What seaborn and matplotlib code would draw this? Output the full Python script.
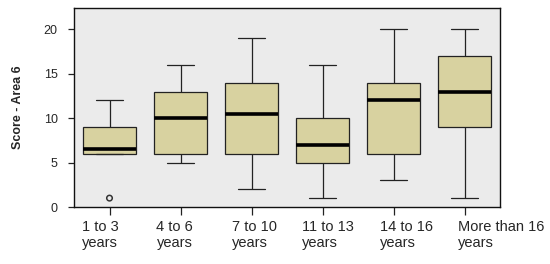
import numpy as np
import pandas as pd
import seaborn as sns
import matplotlib
matplotlib.use("Agg")
from matplotlib import pyplot as plt
from matplotlib.transforms import ScaledTranslation

# five-number summaries (min, q1, median, q3, max)
groups = ["1 to 3\nyears", "4 to 6\nyears", "7 to 10\nyears",
          "11 to 13\nyears", "14 to 16\nyears", "More than 16\nyears"]
g1 = [6, 6, 6.5, 9, 12]
g2 = [5, 6, 10, 13, 16]
g3 = [2, 6, 10.5, 14, 19]
g4 = [1, 5, 7, 10, 16]
g5 = [3, 6, 12, 14, 20]
g6 = [1, 9, 13, 17, 20]
# outliers
out_group = ["1 to 3\nyears"]
out_score = [1]

rows = []
for name, vals in zip(groups, [g1, g2, g3, g4, g5, g6]):
    for v in vals:
        rows.append((name, v))
df = pd.DataFrame(rows, columns=["group", "score"])

sns.set_style("white")
plt.rcParams["font.family"] = ["Liberation Sans", "DejaVu Sans"]

fig = plt.figure(figsize=(5.5, 2.64), dpi=100)
ax = fig.add_axes([74/550, 1 - 207/264, 426/550, 199/264])
ax.set_facecolor("#ebebeb")

sns.boxplot(data=df, x="group", y="score", order=groups, whis=(0, 100),
            width=0.76, color="#d8d2a0", linecolor="#222222", linewidth=0.9,
            showfliers=False, saturation=1, capwidths=0.38,
            medianprops=dict(color="black", linewidth=2.6), ax=ax)

# outlier points
xpos = [groups.index(g) for g in out_group]
ax.scatter(xpos, out_score, s=16, facecolors="none", edgecolors="#333333",
           linewidths=1.1, zorder=5)

ax.set_xlim(-0.5, 5.5)
ax.set_ylim(0, 22.4)
ax.set_yticks([0, 5, 10, 15, 20])
ax.set_xlabel("")
ax.set_ylabel("Score - Area 6", fontsize=9, fontweight="bold", labelpad=14)

for s in ax.spines.values():
    s.set_visible(True)
    s.set_color("#111111")
    s.set_linewidth(1.0)

ax.tick_params(axis="y", direction="out", length=4.3, width=0.9, color="#222222",
               labelsize=9, pad=7.5, left=True)
ax.tick_params(axis="x", direction="out", length=5.8, width=0.9, color="#222222",
               labelsize=10.5, pad=3.5, bottom=True)

offsets = [-28, -24, -20, -21, -14, -7]
for lab, off in zip(ax.get_xticklabels(), offsets):
    lab.set_horizontalalignment("left")
    lab.set_multialignment("left")
    lab.set_linespacing(1.15)
    lab.set_transform(lab.get_transform() + ScaledTranslation(off/100, 0, fig.dpi_scale_trans))

fig.savefig("out.png", dpi=100)
